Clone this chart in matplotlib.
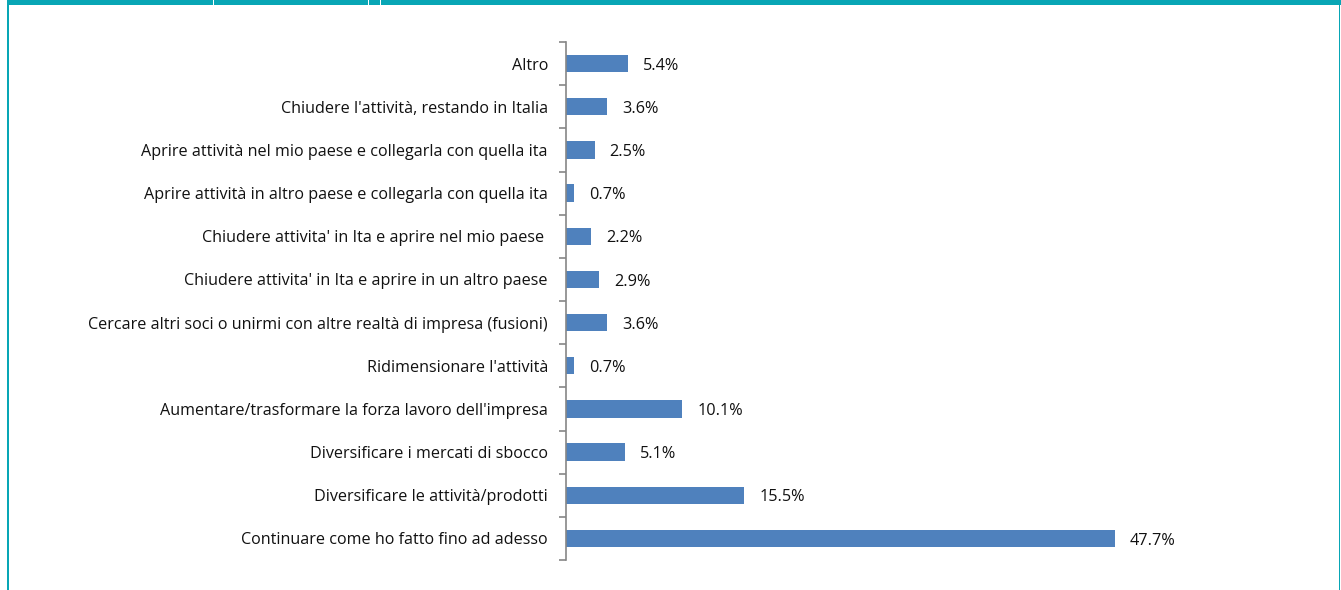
import matplotlib.pyplot as plt
from matplotlib.patches import Rectangle
import numpy as np

plt.rcParams['font.family'] = ['Open Sans', 'DejaVu Sans']

labels = [
    "Continuare come ho fatto fino ad adesso",
    "Diversificare le attività/prodotti",
    "Diversificare i mercati di sbocco",
    "Aumentare/trasformare la forza lavoro dell'impresa",
    "Ridimensionare l'attività",
    "Cercare altri soci o unirmi con altre realtà di impresa (fusioni)",
    "Chiudere attivita' in Ita e aprire in un altro paese",
    "Chiudere attivita' in Ita e aprire nel mio paese ",
    "Aprire attività in altro paese e collegarla con quella ita",
    "Aprire attività nel mio paese e collegarla con quella ita",
    "Chiudere l'attività, restando in Italia",
    "Altro",
]
values = [47.7, 15.5, 5.1, 10.1, 0.7, 3.6, 2.9, 2.2, 0.7, 2.5, 3.6, 5.4]

W, H = 1341, 590
fig = plt.figure(figsize=(W / 100, H / 100), dpi=100)

# plot area in pixel terms
x0, x1, y0, y1 = 566, 1199, 42, 560
ax = fig.add_axes([x0 / W, 1 - y1 / H, (x1 - x0) / W, (y1 - y0) / H])

y = np.arange(len(labels))
ax.barh(y, values, height=0.4, color='#4F81BD')
ax.set_xlim(0, 55)
ax.set_ylim(-0.5, len(labels) - 0.5)

for yi, v in zip(y, values):
    ax.text(v + 1.3, yi - 0.05, f"{v:.1f}%", va='center', ha='left', fontsize=11.7, color='#111111')

ax.set_yticks(y)
ax.set_yticklabels(labels, fontsize=11.6, color='#111111')
ax.tick_params(axis='y', which='major', length=0, pad=13)
ax.set_yticks(np.arange(-0.5, len(labels), 1), minor=True)
ax.tick_params(axis='y', which='minor', length=5, width=1.2, color='#868686', direction='out')
ax.set_xticks([])
for s in ['top', 'right', 'bottom']:
    ax.spines[s].set_visible(False)
ax.spines['left'].set_color('#868686')
ax.spines['left'].set_linewidth(1.2)

# teal frame
teal = '#08A6B5'
fig.patches.append(Rectangle((7 / W, 1 - 5 / H), 1 - 7 / W, 5 / H, transform=fig.transFigure,
                             facecolor=teal, edgecolor='none'))
fig.patches.append(Rectangle((7 / W, 0), 2 / W, 1, transform=fig.transFigure,
                             facecolor=teal, edgecolor='none'))
fig.patches.append(Rectangle((1338.5 / W, 0), 1.5 / W, 1, transform=fig.transFigure,
                             facecolor=teal, edgecolor='none'))
for gx in [213, 368, 380]:
    fig.patches.append(Rectangle((gx / W, 1 - 5 / H), 1.3 / W, 5 / H, transform=fig.transFigure,
                                 facecolor='white', edgecolor='none'))

fig.savefig('out.png', dpi=100)
